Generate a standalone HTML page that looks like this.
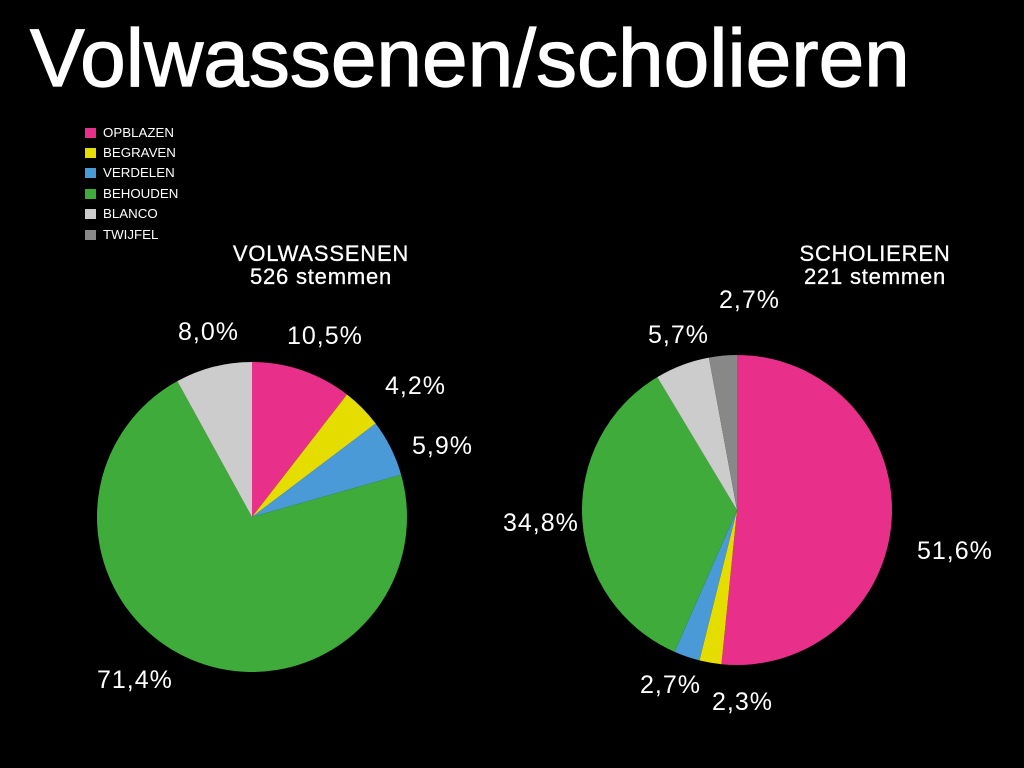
<!DOCTYPE html>
<html><head><meta charset="utf-8"><style>
body{margin:0;background:#000;width:1024px;height:768px;overflow:hidden;font-family:"Liberation Sans",Arial,sans-serif;color:#fff;position:relative}
.t{position:absolute;left:30px;top:12px;font-size:82px;letter-spacing:0px;white-space:nowrap;-webkit-text-stroke:1.2px #fff}
.lg{position:absolute;left:85px;font-size:13.3px;line-height:14px}
.lg span{display:inline-block;width:11px;height:10px;margin-right:7px;vertical-align:-1px}
.h{position:absolute;font-size:22px;letter-spacing:0.8px;text-align:center;line-height:23px;width:320px;-webkit-text-stroke:0.3px #fff}
.l{position:absolute;font-size:25px;letter-spacing:1px;white-space:nowrap}
</style></head><body>
<div class="t">Volwassenen/scholieren</div>
<div class="lg" style="top:126px"><span style="background:#e8308a"></span>OPBLAZEN</div>
<div class="lg" style="top:146px"><span style="background:#e6dd00"></span>BEGRAVEN</div>
<div class="lg" style="top:166px"><span style="background:#4a9ad8"></span>VERDELEN</div>
<div class="lg" style="top:187px"><span style="background:#3fab3a"></span>BEHOUDEN</div>
<div class="lg" style="top:207px"><span style="background:#cccccc"></span>BLANCO</div>
<div class="lg" style="top:228px"><span style="background:#888888"></span>TWIJFEL</div>
<div class="h" style="left:161px;top:242px">VOLWASSENEN<br>526 stemmen</div>
<div class="h" style="left:715px;top:242px">SCHOLIEREN<br>221 stemmen</div>
<svg id="s" width="1024" height="768" style="position:absolute;left:0;top:0"></svg>
<div class="l" style="left:178px;top:318px">8,0%</div>
<div class="l" style="left:287px;top:322px">10,5%</div>
<div class="l" style="left:385px;top:372px">4,2%</div>
<div class="l" style="left:412px;top:432px">5,9%</div>
<div class="l" style="left:97px;top:666px">71,4%</div>
<div class="l" style="left:719px;top:286px">2,7%</div>
<div class="l" style="left:648px;top:321px">5,7%</div>
<div class="l" style="left:503px;top:509px">34,8%</div>
<div class="l" style="left:917px;top:537px">51,6%</div>
<div class="l" style="left:640px;top:671px">2,7%</div>
<div class="l" style="left:712px;top:688px">2,3%</div>
<script>
var C=["#e8308a","#e6dd00","#4a9ad8","#3fab3a","#cccccc","#888888"];
function pie(cx,cy,r,v){var a=0,h="";for(var i=0;i<v.length;i++){var a0=a;a+=v[i]/100*2*Math.PI;
var x0=cx+r*Math.sin(a0),y0=cy-r*Math.cos(a0),x1=cx+r*Math.sin(a),y1=cy-r*Math.cos(a);
h+='<path d="M'+cx+' '+cy+'L'+x0+' '+y0+'A'+r+' '+r+' 0 '+((a-a0)>Math.PI?1:0)+' 1 '+x1+' '+y1+'Z" fill="'+C[i]+'"/>';}return h;}
document.getElementById('s').innerHTML=pie(252,517,155,[10.5,4.2,5.9,71.4,8.0,0])+pie(737,510,155,[51.6,2.3,2.7,34.8,5.7,2.9]);
</script>
</body></html>
